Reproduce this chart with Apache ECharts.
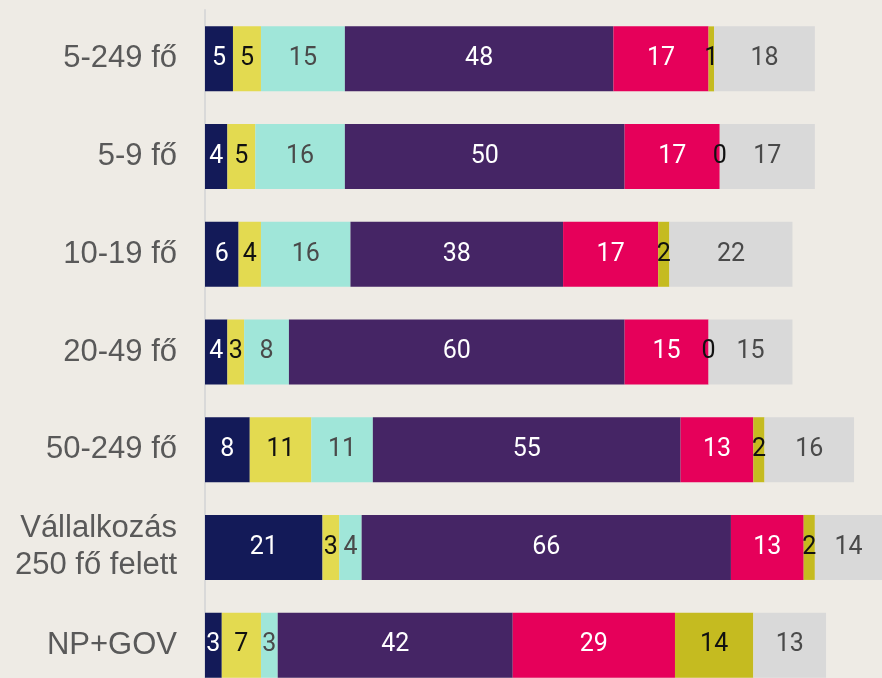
<!DOCTYPE html>
<html>
<head>
<meta charset="utf-8">
<script src="https://cdn.jsdelivr.net/npm/echarts@6/dist/echarts.min.js"></script>
<style>
  html, body { margin: 0; padding: 0; background: #eeebe5; overflow: hidden; }
  #chart { width: 882px; height: 694px; }
</style>
</head>
<body>
<div id="chart"></div>
<script>
let categories = ["5-249 fő", "5-9 fő", "10-19 fő", "20-49 fő", "50-249 fő", "Vállalkozás\n250 fő felett", "NP+GOV"];

let s1 = [5, 4, 6, 4, 8, 21, 3];
let s2 = [5, 5, 4, 3, 11, 3, 7];
let s3 = [15, 16, 16, 8, 11, 4, 3];
let s4 = [48, 50, 38, 60, 55, 66, 42];
let s5 = [17, 17, 17, 15, 13, 13, 29];
let s6 = [1, 0, 2, 0, 2, 2, 14];
let s7 = [18, 17, 22, 15, 16, 14, 13];

let seriesData = [s1, s2, s3, s4, s5, s6, s7];
let colors = ["#131a58", "#e3da50", "#a0e6d9", "#452565", "#e6005a", "#c5bb20", "#d9d9d9"];
let labelColors = ["#ffffff", "#111111", "#4a4a4a", "#ffffff", "#ffffff", "#111111", "#4a4a4a"];

function createChart() {
  var dom = document.getElementById("chart");
  var myChart = echarts.init(dom, null, { renderer: "canvas" });

  let series = [];
  for (let i = 0; i < seriesData.length; i++) {
    series.push({
      name: "s" + (i + 1),
      type: "bar",
      stack: "total",
      barWidth: 65,
      data: seriesData[i],
      itemStyle: { color: colors[i] },
      label: {
        show: true,
        position: "inside",
        color: labelColors[i],
        fontFamily: "Roboto",
        fontSize: 25,
      },
    });
  }

  var option = {
    backgroundColor: "#eeebe5",
    animation: false,
    grid: { left: 205, right: 0, top: 10, bottom: 0 },
    xAxis: {
      type: "value",
      min: 0,
      max: 121,
      show: false,
    },
    yAxis: {
      type: "category",
      inverse: true,
      data: categories,
      axisLine: { show: true, lineStyle: { color: "#d9d9d9", width: 2 } },
      axisTick: { show: false },
      axisLabel: {
        margin: 28,
        color: "#595959",
        fontFamily: "Liberation Sans",
        fontSize: 31,
        lineHeight: 37,
        align: "right",
      },
    },
    series: series,
  };
  myChart.setOption(option);
}

createChart();
</script>
</body>
</html>
